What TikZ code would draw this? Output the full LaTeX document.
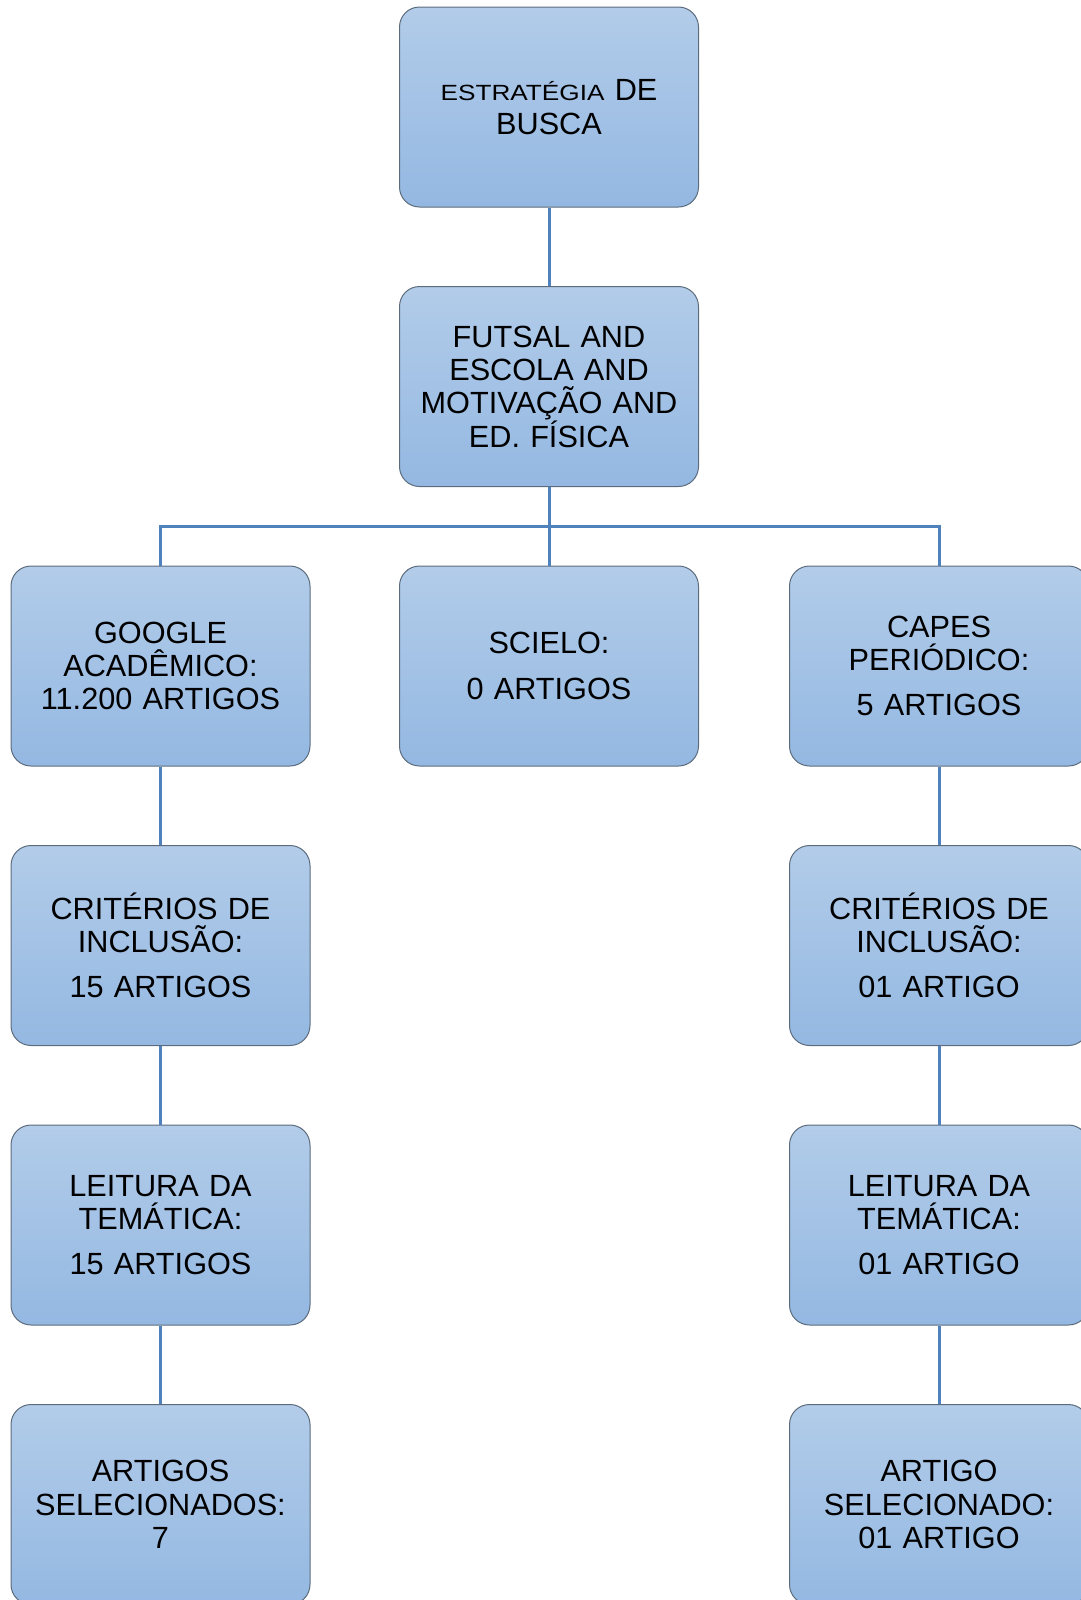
\documentclass[tikz,border=0pt]{standalone}
\usepackage{fontspec}
\setmainfont{Liberation Sans}
\usetikzlibrary{calc}

\definecolor{caixaTopo}{RGB}{178,204,233}
\definecolor{caixaBase}{RGB}{148,184,226}
\definecolor{caixaBorda}{RGB}{92,108,124}
\definecolor{ligaAzul}{RGB}{79,129,189}

\tikzset{every picture/.style={line width=0.75pt}}
\tikzset{
  etapa/.style={draw=caixaBorda, line width=0.75pt, rounded corners=15pt,
    top color=caixaTopo, bottom color=caixaBase,
    minimum width=224.25pt, minimum height=150pt, text width=212pt,
    align=center, inner sep=0pt, font=\fontsize{23}{25}\selectfont},
  ligacao/.style={draw=ligaAzul, line width=2.25pt}
}

\begin{document}
\begin{tikzpicture}[x=0.75pt,y=0.75pt,yscale=-1,xscale=1]
\path[use as bounding box] (0,0) rectangle (1081,1600);

%Shape: Rounded Rect [busca]
\node[etapa] (busca) at (549,107) {{\fontsize{16.5}{25}\selectfont\addfontfeature{FakeStretch=1.19}ESTRATÉGIA} DE\\BUSCA};
%Shape: Rounded Rect [termos]
\node[etapa] (termos) at (549,386.5) {FUTSAL AND\\ESCOLA AND\\MOTIVAÇÃO AND\\ED. FÍSICA};

%Shape: Rounded Rect [google]
\node[etapa] (google) at (160.5,666) {GOOGLE\\ACADÊMICO:\\11.200 ARTIGOS};
%Shape: Rounded Rect [scielo]
\node[etapa] (scielo) at (549,666) {SCIELO:\\[10pt]0 ARTIGOS};
%Shape: Rounded Rect [capes]
\node[etapa] (capes) at (939,666) {CAPES\\PERIÓDICO:\\[9pt]5 ARTIGOS};

%Shape: Rounded Rect [google column]
\node[etapa] (criteriosG) at (160.5,945.5) {CRITÉRIOS DE\\INCLUSÃO:\\[9pt]15 ARTIGOS};
\node[etapa] (leituraG) at (160.5,1225) {LEITURA DA\\TEMÁTICA:\\[9pt]15 ARTIGOS};
\node[etapa] (finalG) at (160.5,1504.5) {ARTIGOS\\SELECIONADOS:\\7};

%Shape: Rounded Rect [capes column]
\node[etapa] (criteriosC) at (939,945.5) {CRITÉRIOS DE\\INCLUSÃO:\\[9pt]01 ARTIGO};
\node[etapa] (leituraC) at (939,1225) {LEITURA DA\\TEMÁTICA:\\[9pt]01 ARTIGO};
\node[etapa] (finalC) at (939,1504.5) {ARTIGO\\SELECIONADO:\\01 ARTIGO};

%Straight Lines
\coordinate (divisao) at ($(termos.south)!0.5!(scielo.north)$);
\draw[ligacao] (busca.south) -- (termos.north);
\draw[ligacao] (termos.south) -- (scielo.north);
\draw[ligacao] (google.north) |- (divisao) -| (capes.north);
\draw[ligacao] (google.south) -- (criteriosG.north);
\draw[ligacao] (criteriosG.south) -- (leituraG.north);
\draw[ligacao] (leituraG.south) -- (finalG.north);
\draw[ligacao] (capes.south) -- (criteriosC.north);
\draw[ligacao] (criteriosC.south) -- (leituraC.north);
\draw[ligacao] (leituraC.south) -- (finalC.north);

\end{tikzpicture}
\end{document}
